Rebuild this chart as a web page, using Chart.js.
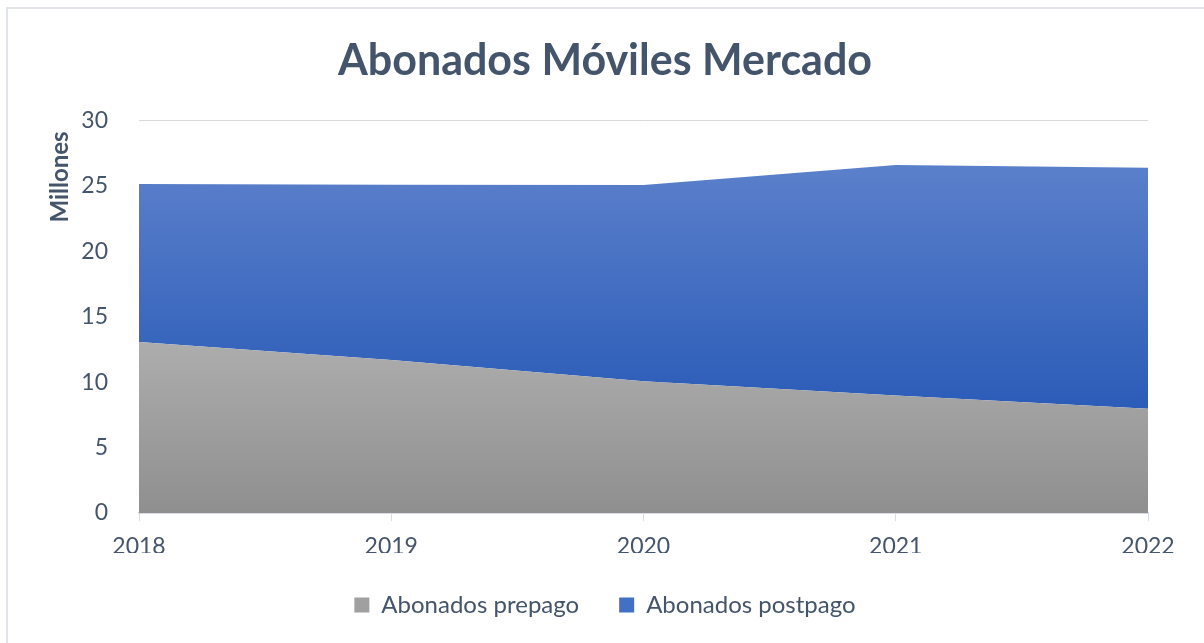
<!DOCTYPE html>
<html>
<head>
<meta charset="utf-8">
<script src="https://cdn.jsdelivr.net/npm/chart.js@4/dist/chart.umd.min.js"></script>
<style>
  html, body { margin: 0; padding: 0; background: #ffffff; }
  #wrap { position: relative; width: 1204px; height: 643px; overflow: hidden; }
  #frame { position: absolute; left: 6px; top: 7px; width: 1300px; height: 700px;
           border-left: 2px solid #e1e4e8; border-top: 2px solid #e1e4e8; }
  canvas { position: absolute; left: 0; top: 0; }
</style>
</head>
<body>
<div id="wrap">
  <div id="frame"></div>
  <canvas id="c" width="1204" height="643"></canvas>
</div>
<script>
const categories = ['2018', '2019', '2020', '2021', '2022'];
const prepago = [13.07, 11.69, 10.08, 8.99, 7.97];
const postpago = [12.09, 13.41, 15.00, 17.61, 18.43];
const yTicks = [0, 5, 10, 15, 20, 25, 30];
const seriesNames = ['Abonados prepago', 'Abonados postpago'];
const yTitle = 'Millones';
const chartTitle = 'Abonados Móviles Mercado';

const TEXT = '#44546a';
const FONT = 'Lato, "Open Sans", sans-serif';

function vGrad(ctx, v1, v2, c1, c2) {
  const chart = ctx.chart;
  const y = chart.scales && chart.scales.y;
  if (!chart.chartArea || !y) return c2;
  const g = chart.ctx.createLinearGradient(0, y.getPixelForValue(v1), 0, y.getPixelForValue(v2));
  g.addColorStop(0, c1);
  g.addColorStop(1, c2);
  return g;
}

const yTitlePlugin = {
  id: 'yTitle',
  afterDraw(chart) {
    const c = chart.ctx;
    c.save();
    c.translate(60, 177);
    c.rotate(-Math.PI / 2);
    c.fillStyle = TEXT;
    c.font = 'bold 24px ' + FONT;
    c.textAlign = 'center';
    c.textBaseline = 'middle';
    c.fillText(yTitle, 0, 0);
    c.restore();
  }
};

new Chart(document.getElementById('c'), {
  type: 'line',
  data: {
    labels: categories,
    datasets: [
      {
        label: seriesNames[0],
        data: prepago,
        fill: 'origin',
        borderWidth: 0,
        pointRadius: 0,
        tension: 0,
        borderColor: 'rgba(0,0,0,0)',
        backgroundColor: (ctx) => vGrad(ctx, 13.1, 0, '#adadad', '#8f8f8f'),
        legendColor: '#a0a0a0'
      },
      {
        label: seriesNames[1],
        data: postpago,
        fill: '-1',
        borderWidth: 0,
        pointRadius: 0,
        tension: 0,
        borderColor: 'rgba(0,0,0,0)',
        backgroundColor: (ctx) => vGrad(ctx, 26.6, 8, '#5b80cb', '#2b5cb8'),
        legendColor: '#4170c6'
      }
    ]
  },
  options: {
    responsive: false,
    animation: false,
    layout: { padding: { left: 6, right: 0, top: 8, bottom: 16 } },
    plugins: {
      title: {
        display: true,
        text: chartTitle,
        color: TEXT,
        font: { family: FONT, size: 43, weight: 'bold' },
        padding: { top: 27, bottom: 34 }
      },
      legend: {
        position: 'bottom',
        labels: {
          color: TEXT,
          font: { family: FONT, size: 24 },
          boxWidth: 15,
          boxHeight: 15,
          padding: 40,
          generateLabels(chart) {
            return chart.data.datasets.map((ds, i) => ({
              text: ds.label,
              fillStyle: ds.legendColor,
              strokeStyle: ds.legendColor,
              lineWidth: 0,
              hidden: false,
              datasetIndex: i,
              fontColor: TEXT
            }));
          }
        }
      },
      tooltip: { enabled: false }
    },
    scales: {
      x: {
        type: 'category',
        offset: false,
        grid: {
          display: true,
          drawOnChartArea: false,
          drawTicks: true,
          tickLength: 8,
          color: '#d9dde3',
          lineWidth: 1
        },
        border: { display: true, color: '#d9dde3', width: 2 },
        ticks: {
          color: TEXT,
          font: { family: FONT, size: 23 },
          padding: 12,
          maxRotation: 0
        },
        afterFit(s) { s.height = 40; }
      },
      y: {
        stacked: true,
        min: 0,
        max: 30,
        afterBuildTicks(s) { s.ticks = yTicks.map(v => ({ value: v })); },
        grid: { color: '#d9d9d9', lineWidth: 1, drawTicks: false },
        border: { display: false },
        ticks: {
          color: TEXT,
          font: { family: FONT, size: 23 },
          padding: 31
        },
        afterFit(s) { s.width = 133; }
      },
      yR: {
        position: 'right',
        display: true,
        grid: { display: false, drawTicks: false },
        border: { display: false },
        ticks: { display: false },
        afterFit(s) { s.width = 56; }
      }
    }
  },
  plugins: [yTitlePlugin]
});
</script>
</body>
</html>
